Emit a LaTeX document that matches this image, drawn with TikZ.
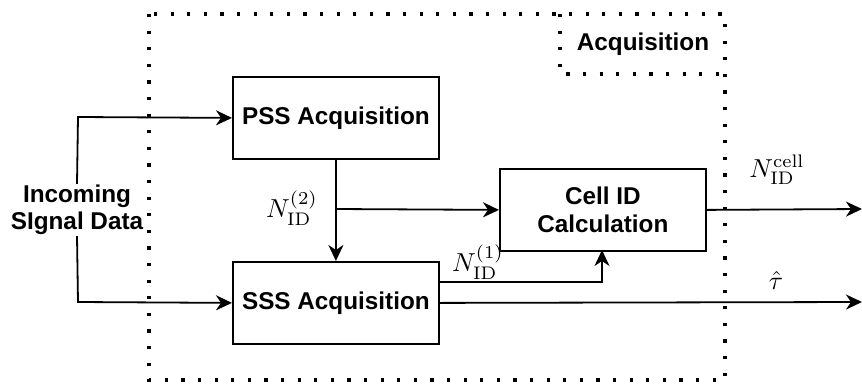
\documentclass[tikz,border=0pt]{standalone}
\usepackage{fontspec}
\usepackage{graphicx}
\setsansfont{Liberation Sans}
\usetikzlibrary{arrows.meta}
\begin{document}
\begin{tikzpicture}[x=1pt,y=-1pt,
  blk/.style={draw,line width=1.8pt,minimum width=206pt,minimum height=82pt,align=center,font=\sffamily\bfseries\fontsize{24.3}{29}\selectfont,inner sep=0pt},
  conn/.style={line width=1.8pt,-{Stealth[length=16pt,width=15pt,inset=5pt]}},
  dotbox/.style={line width=3.2pt,dash pattern=on 3.2pt off 13.4pt},
  lbl/.style={inner sep=0pt}]
\useasboundingbox (0,0) rectangle (862,383);
% outer dotted box
\draw[dotbox] (149,14) rectangle (725,380);
\draw[dotbox] (560,14) -- (560,74) -- (725,74);
\node[font=\sffamily\bfseries\fontsize{24.3}{29}\selectfont,inner sep=0pt] (acq) at (643,44) {Acquisition};
% blocks
\node[blk,anchor=north west] (pss) at (232,76) {PSS Acquisition};
\node[blk,anchor=north west] (sss) at (232,261) {SSS Acquisition};
\node[blk,anchor=north west] (cell) at (499,168) {Cell ID\\[-1pt]Calculation};
% input
\node[font=\sffamily\bfseries\fontsize{24.3}{29}\selectfont,align=center,inner sep=1pt,fill=white] (in) at (77,210) {Incoming\\[-2pt]SIgnal Data};
\draw[conn] (in.north) -- (78,117) -- (pss.west);
\draw[conn] (in.south) -- (78,302) -- (sss.west);
% PSS to SSS
\draw[conn] (pss.south) -- (sss.north);
\coordinate (br) at (335,209);
\draw[conn] (br) -- (cell.west);
\node[lbl] (n2) at (292,208) {\scalebox{2.6}{$N_{\mathrm{ID}}^{(2)}$}};
% SSS to cell
\coordinate (s1) at (438,282);
\draw[conn] (s1) -- (602,282) -- (602,250);
\node[lbl] (n1) at (478,262) {\scalebox{2.6}{$N_{\mathrm{ID}}^{(1)}$}};
% outputs
\coordinate (o1) at (862,209);
\coordinate (o2) at (862,302);
\draw[conn] (cell.east) -- (o1);
\draw[conn] (sss.east) -- (o2);
\node[lbl] (nc) at (777,170) {\scalebox{2.6}{$N_{\mathrm{ID}}^{\mathrm{cell}}$}};
\node[lbl] (tau) at (776,280) {\scalebox{2.6}{$\hat{\tau}$}};
\end{tikzpicture}
\end{document}
